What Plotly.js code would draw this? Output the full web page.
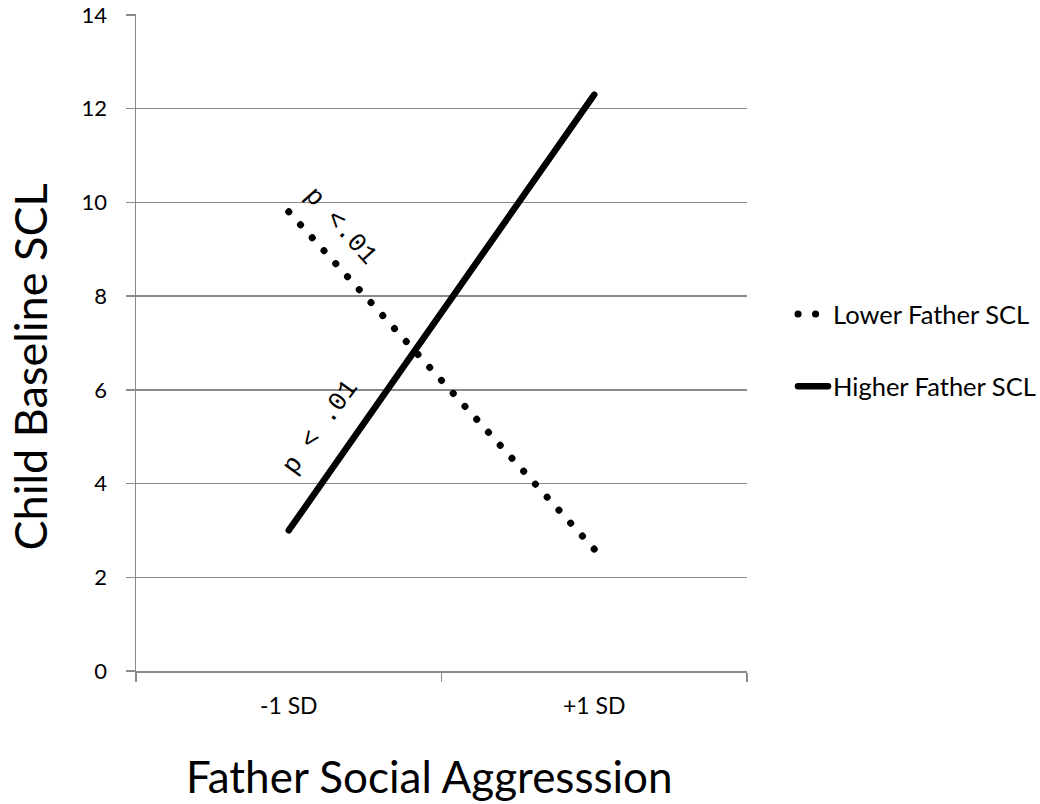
<!DOCTYPE html>
<html>
<head>
<meta charset="utf-8">
<script src="https://cdn.plot.ly/plotly-3.0.1.min.js"></script>
<style>
html,body{margin:0;padding:0;background:#fff;}
#chart{width:1040px;height:804px;}
.scatterlayer .js-line, .legendlines path {stroke-linecap: round;}
</style>
</head>
<body>
<div id="chart"></div>
<script>
const categories = ["-1 SD", "+1 SD"];
const lowerFatherSCL = [9.8, 2.6];
const higherFatherSCL = [3.0, 12.3];
const seriesNames = ["Lower Father SCL", "Higher Father SCL"];
const yTicks = [0, 2, 4, 6, 8, 10, 12, 14];
const xTitle = "Father Social Aggresssion";
const yTitle = "Child Baseline SCL";

const FONT = "Lato, 'Open Sans', sans-serif";
const MONO = "'Liberation Mono', 'DejaVu Sans Mono', monospace";
const GRID = "#8a8a8a";

const traces = [
  {
    x: categories, y: lowerFatherSCL, name: seriesNames[0], type: "scatter", mode: "lines",
    line: {color: "#000", width: 7, dash: "0.1px,17.4px"}, legendgroup: "a"
  },
  {
    x: categories, y: higherFatherSCL, name: seriesNames[1], type: "scatter", mode: "lines",
    line: {color: "#000", width: 6.5}, legendgroup: "b"
  }
];

const layout = {
  width: 1040, height: 804,
  margin: {l: 136, r: 293, t: 14, b: 133},
  paper_bgcolor: "#fff", plot_bgcolor: "#fff",
  font: {family: FONT, color: "#000"},
  showlegend: true,
  legend: {
    xref: "container", yref: "container",
    x: 0.7625, y: 0.638, xanchor: "left", yanchor: "top",
    font: {family: FONT, size: 25.5, color: "#000"},
    tracegroupgap: 36, traceorder: "grouped", bgcolor: "rgba(0,0,0,0)"
  },
  xaxis: {
    type: "category", range: [-0.5, 1.5],
    showgrid: false, zeroline: false,
    showline: true, linecolor: GRID, linewidth: 1.5,
    ticks: "outside", tickson: "boundaries", ticklen: 9, tickcolor: GRID, tickwidth: 1.5,
    tickfont: {family: FONT, size: 23, color: "#000"},
    ticklabelstandoff: 14,
    fixedrange: true
  },
  yaxis: {
    range: [0, 14.02], tickvals: yTicks, ticktext: yTicks.map(String),
    showgrid: true, gridcolor: GRID, gridwidth: 1.5,
    zeroline: false, showline: true, linecolor: GRID, linewidth: 1.5, mirror: false,
    ticks: "outside", ticklen: 9, tickcolor: GRID, tickwidth: 1.5,
    tickfont: {family: FONT, size: 22, color: "#000"},
    ticklabelstandoff: 14, ticklabeloverflow: "allow",
    fixedrange: true
  },
  annotations: [
    {x: 0.17, y: 9.5, xref: "x", yref: "y", text: "p <.01", showarrow: false, textangle: 48,
     font: {family: MONO, size: 26, color: "#000"}},
    {x: 0.105, y: 5.2, xref: "x", yref: "y", text: "p < .01", showarrow: false, textangle: -54,
     font: {family: MONO, size: 26, color: "#000"}},
    {x: 0.481, y: -0.16, xref: "paper", yref: "paper", text: xTitle, showarrow: false,
     xanchor: "center", yanchor: "middle", font: {family: FONT, size: 44, color: "#000"}},
    {x: -0.174, y: 0.463, xref: "paper", yref: "paper", text: yTitle, showarrow: false, textangle: -90,
     xanchor: "center", yanchor: "middle", font: {family: FONT, size: 45, color: "#000"}}
  ]
};

Plotly.newPlot("chart", traces, layout, {displayModeBar: false, staticPlot: true});
</script>
</body>
</html>
